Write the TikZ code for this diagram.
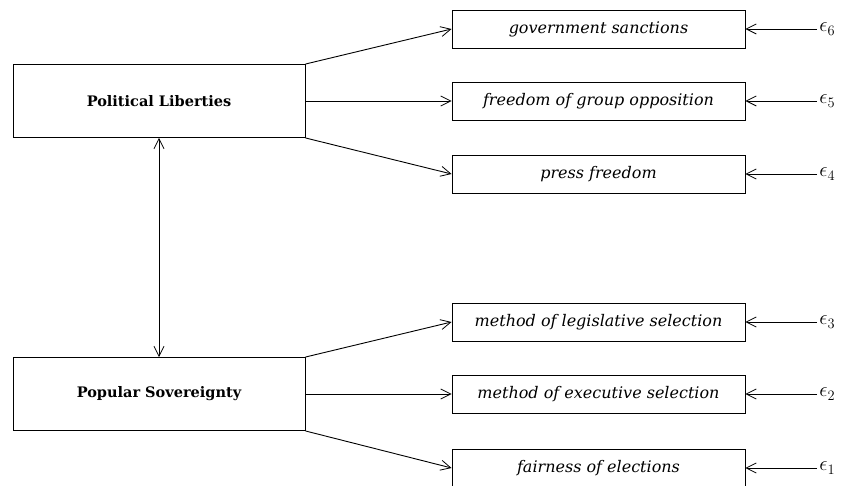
\documentclass[tikz,border=0pt]{standalone}
\usepackage{fontspec}
\setmainfont{DejaVu Serif}
\usetikzlibrary{arrows.meta}
\begin{document}
\begin{tikzpicture}[x=1pt,y=-1pt,
  line width=0.9pt,
  barb/.tip={Straight Barb[length=10pt,width=10pt,line width=0.8pt]},
  tip/.style={-barb},
  bigbox/.style={draw,minimum width=292pt,minimum height=73pt,font=\fontsize{14.5}{17}\selectfont\bfseries},
  smallbox/.style={draw,minimum width=293pt,minimum height=38pt,font=\fontsize{16}{18}\selectfont\itshape},
  errlab/.style={anchor=west,inner sep=0pt,font=\fontsize{21}{23}\selectfont}]
\useasboundingbox (0,0) rectangle (847,486);

% latent factors
\node[bigbox] (pl) at (159,101) {Political Liberties};
\node[bigbox] (ps) at (159,394) {Popular Sovereignty};

% indicators
\node[smallbox] (i6) at (598.5,29)  {government sanctions};
\node[smallbox] (i5) at (598.5,101) {freedom of group opposition};
\node[smallbox] (i4) at (598.5,174) {press freedom};
\node[smallbox] (i3) at (598.5,322) {method of legislative selection};
\node[smallbox] (i2) at (598.5,394) {method of executive selection};
\node[smallbox] (i1) at (598.5,468) {fairness of elections};

% error terms
\foreach \k in {1,...,6} {
  \node[errlab] (e\k) at (819,0 |- i\k) {$\epsilon_{\k}$};
  \draw[tip] (e\k.west) ++(-2,0) coordinate (s\k) -- (i\k.east);
}

% loadings
\draw[tip] (pl.north east) -- (i6.west);
\draw[tip] (pl.east) -- (i5.west);
\draw[tip] (pl.south east) -- (i4.west);
\draw[tip] (ps.north east) -- (i3.west);
\draw[tip] (ps.east) -- (i2.west);
\draw[tip] (ps.south east) -- (i1.west);

% factor correlation
\draw[barb-barb] (pl.south) -- (ps.north);
\end{tikzpicture}
\end{document}
